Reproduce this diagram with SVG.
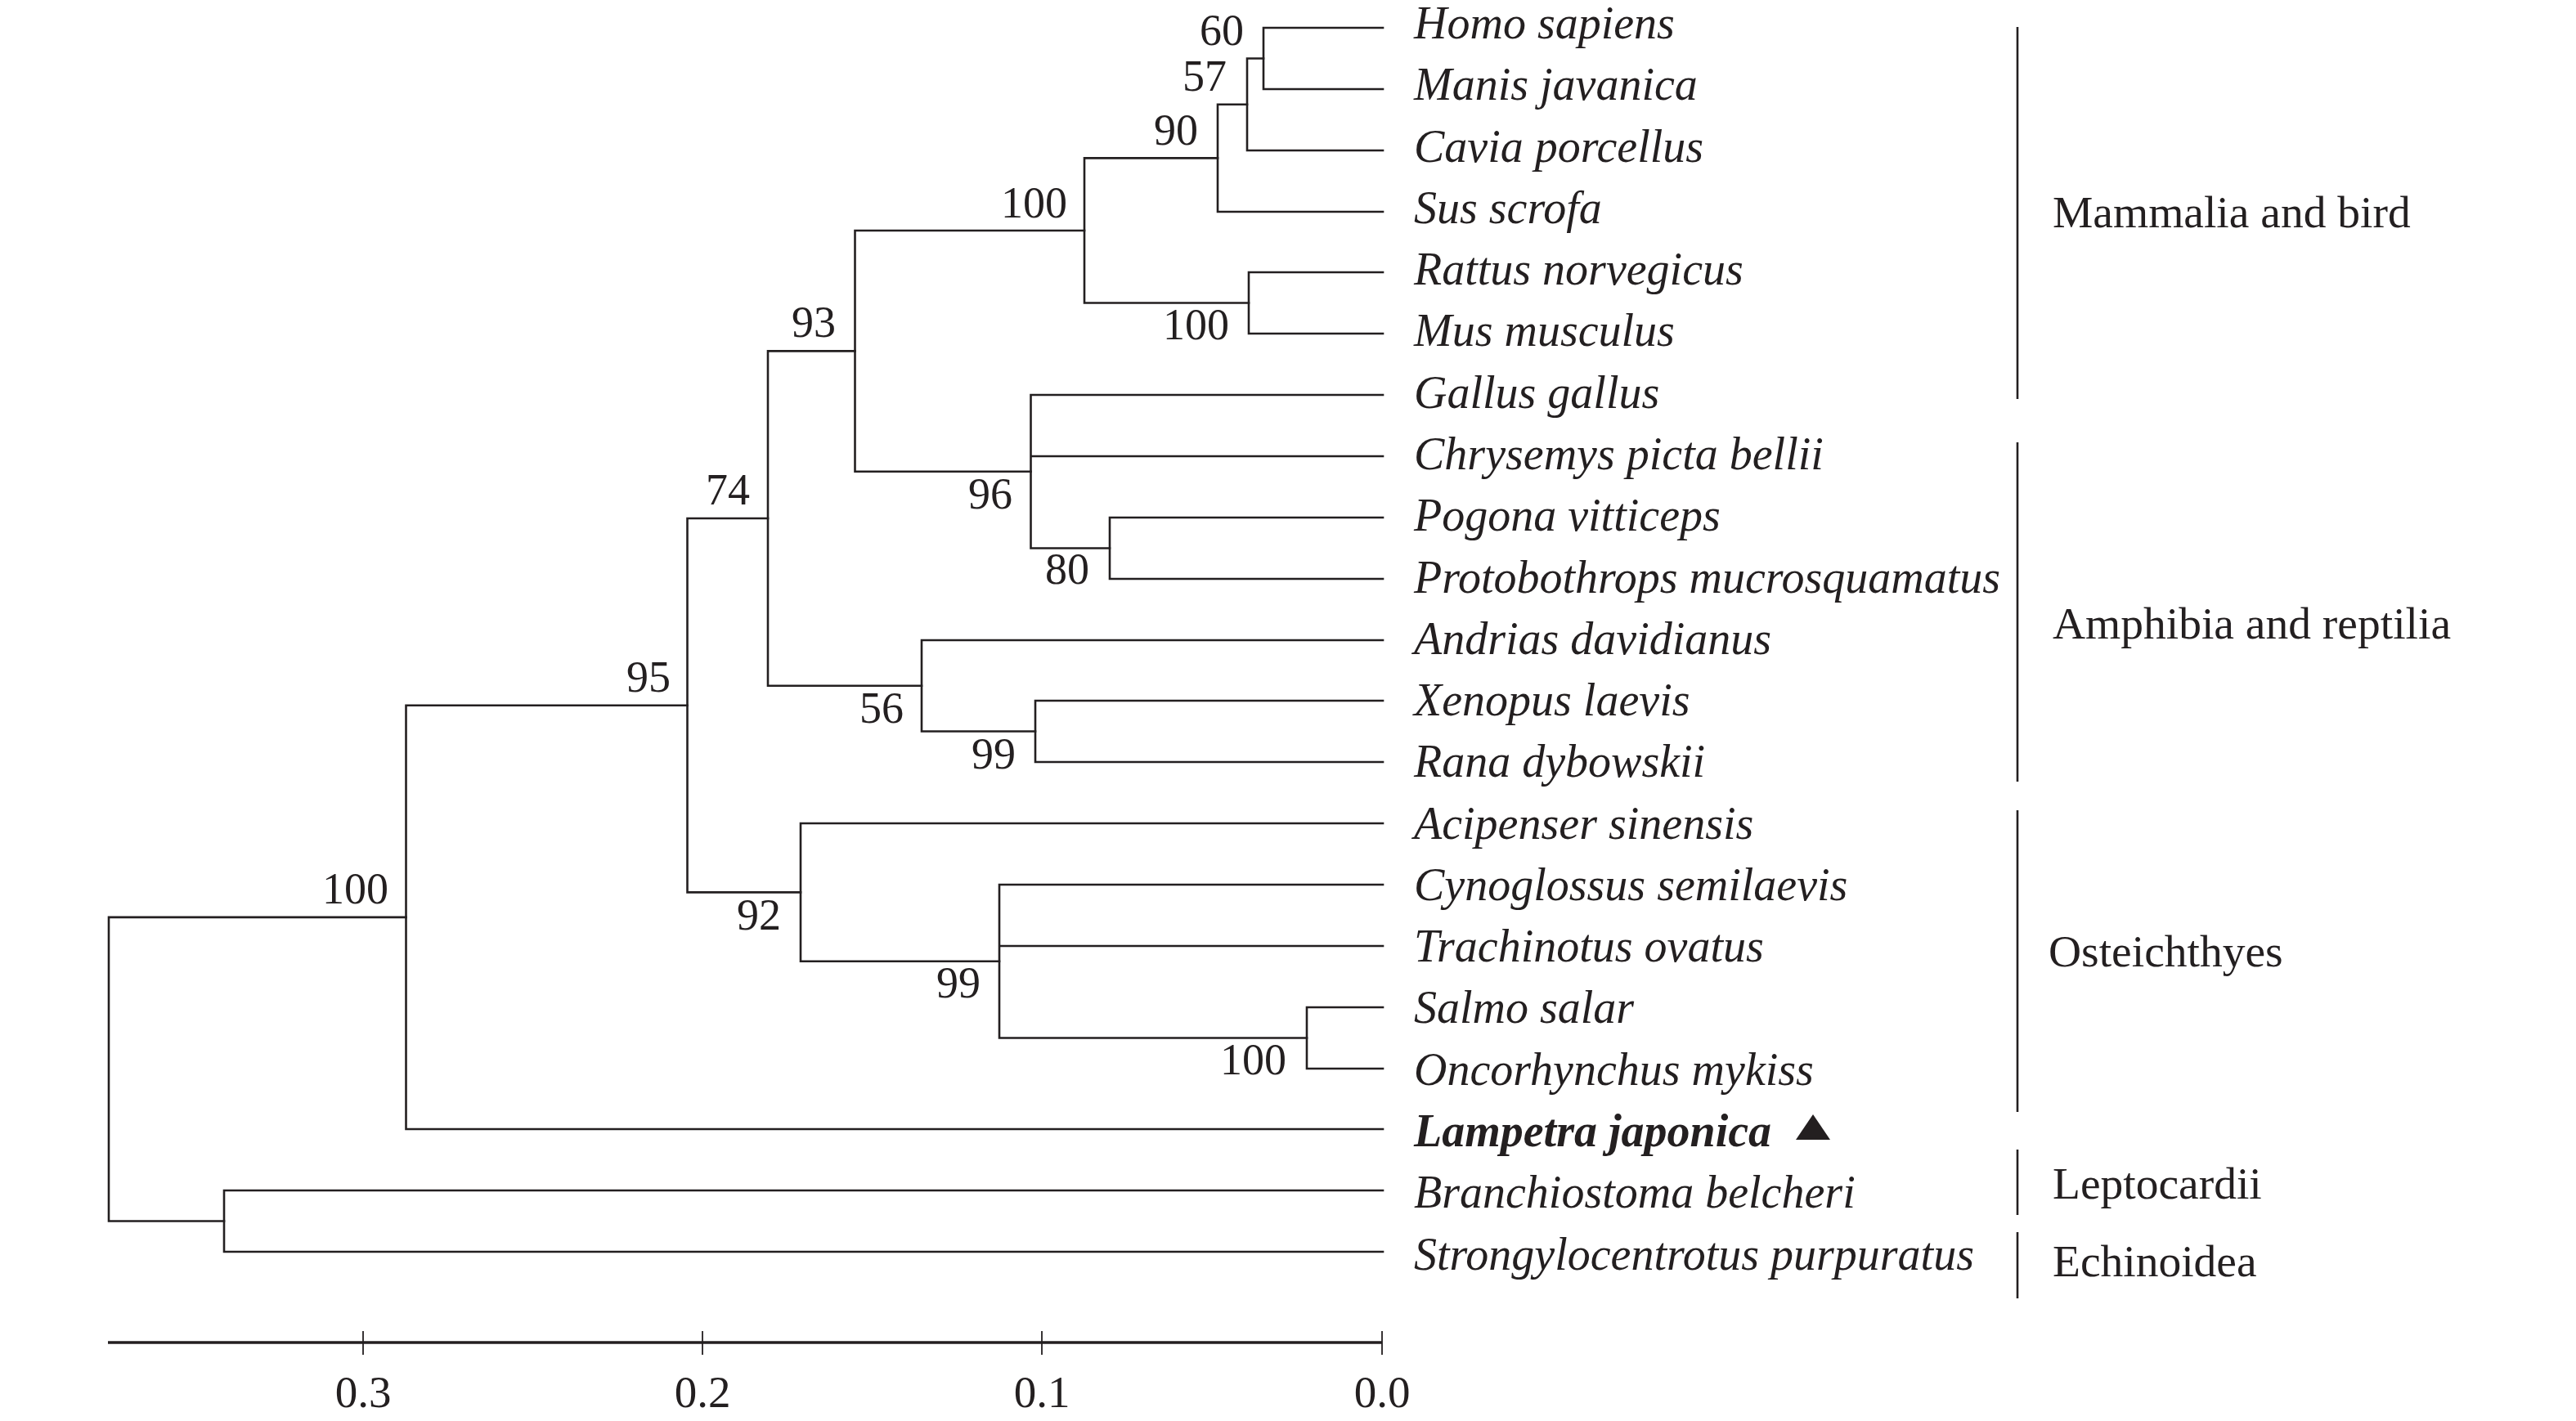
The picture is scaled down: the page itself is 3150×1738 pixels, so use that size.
<svg xmlns="http://www.w3.org/2000/svg" width="3150" height="1738" viewBox="0 0 3150 1738">
<style>
  .br { stroke: #231f20; stroke-width: 2.6; fill: none; stroke-linecap: square; }
  .leaf { font-family: "Liberation Serif", "Times New Roman", serif; font-style: italic; font-size: 56px; fill: #231f20; }
  .bold { font-weight: bold; }
  .bs { font-family: "Liberation Serif", "Times New Roman", serif; font-size: 54px; fill: #231f20; text-anchor: end; }
  .grp { font-family: "Liberation Serif", "Times New Roman", serif; font-size: 55.5px; fill: #231f20; }
  .bar { stroke: #231f20; stroke-width: 2.6; }
  .axis { stroke: #231f20; stroke-width: 3.5; }
  .tick { stroke: #231f20; stroke-width: 1.8; }
  .tl { font-family: "Liberation Serif", "Times New Roman", serif; font-size: 55px; fill: #231f20; text-anchor: middle; }
</style>
<rect width="3150" height="1738" fill="#ffffff"/>
<g id="connectors">
  <path class="br" d="M1545,34 V109 M1545,34 H1691 M1545,109 H1691"/>
  <path class="br" d="M1525,71.5 V184 M1525,71.5 H1545 M1525,184 H1691"/>
  <path class="br" d="M1489,127.75 V259 M1489,127.75 H1525 M1489,259 H1691"/>
  <path class="br" d="M1527,333 V408 M1527,333 H1691 M1527,408 H1691"/>
  <path class="br" d="M1326,193.4 V370.5 M1326,193.4 H1489 M1326,370.5 H1527"/>
  <path class="br" d="M1357,633 V708 M1357,633 H1691 M1357,708 H1691"/>
  <path class="br" d="M1260.5,483 V670.5 M1260.5,483 H1691 M1260.5,558 H1691 M1260.5,670.5 H1357"/>
  <path class="br" d="M1045.5,282 V576.75 M1045.5,282 H1326 M1045.5,576.75 H1260.5"/>
  <path class="br" d="M1266,857 V932 M1266,857 H1691 M1266,932 H1691"/>
  <path class="br" d="M1127,783 V894.5 M1127,783 H1691 M1127,894.5 H1266"/>
  <path class="br" d="M939,429.4 V838.75 M939,429.4 H1045.5 M939,838.75 H1127"/>
  <path class="br" d="M1598,1232 V1307 M1598,1232 H1691 M1598,1307 H1691"/>
  <path class="br" d="M1222,1082 V1269.5 M1222,1082 H1691 M1222,1157 H1691 M1222,1269.5 H1598"/>
  <path class="br" d="M979,1007 V1175.75 M979,1007 H1691 M979,1175.75 H1222"/>
  <path class="br" d="M840.5,634 V1091.4 M840.5,634 H939 M840.5,1091.4 H979"/>
  <path class="br" d="M496.5,862.7 V1381 M496.5,862.7 H840.5 M496.5,1381 H1691"/>
  <path class="br" d="M274,1456 V1531 M274,1456 H1691 M274,1531 H1691"/>
  <path class="br" d="M133,1121.9 V1493.5 M133,1121.9 H496.5 M133,1493.5 H274"/>
</g>
<g id="bootstrap">
  <text class="bs" x="1521" y="55">60</text>
  <text class="bs" x="1500" y="111">57</text>
  <text class="bs" x="1465" y="177">90</text>
  <text class="bs" x="1305" y="266">100</text>
  <text class="bs" x="1503" y="415">100</text>
  <text class="bs" x="1022" y="412">93</text>
  <text class="bs" x="1238" y="622">96</text>
  <text class="bs" x="1332" y="714">80</text>
  <text class="bs" x="917" y="617">74</text>
  <text class="bs" x="1105" y="884">56</text>
  <text class="bs" x="1242" y="940">99</text>
  <text class="bs" x="820" y="846">95</text>
  <text class="bs" x="955" y="1137">92</text>
  <text class="bs" x="1199" y="1220">99</text>
  <text class="bs" x="1573" y="1314">100</text>
  <text class="bs" x="475" y="1105">100</text>
</g>
<g id="node-homo"><text class="leaf" x="1729" y="47">Homo sapiens</text></g>
<g id="node-manis"><text class="leaf" x="1729" y="122">Manis javanica</text></g>
<g id="node-cavia"><text class="leaf" x="1729" y="198">Cavia porcellus</text></g>
<g id="node-sus"><text class="leaf" x="1729" y="273">Sus scrofa</text></g>
<g id="node-rattus"><text class="leaf" x="1729" y="348">Rattus norvegicus</text></g>
<g id="node-mus"><text class="leaf" x="1729" y="423">Mus musculus</text></g>
<g id="node-gallus"><text class="leaf" x="1729" y="499">Gallus gallus</text></g>
<g id="node-chrysemys"><text class="leaf" x="1729" y="574">Chrysemys picta bellii</text></g>
<g id="node-pogona"><text class="leaf" x="1729" y="649">Pogona vitticeps</text></g>
<g id="node-protobothrops"><text class="leaf" x="1729" y="725">Protobothrops mucrosquamatus</text></g>
<g id="node-andrias"><text class="leaf" x="1729" y="800">Andrias davidianus</text></g>
<g id="node-xenopus"><text class="leaf" x="1729" y="875">Xenopus laevis</text></g>
<g id="node-rana"><text class="leaf" x="1729" y="950">Rana dybowskii</text></g>
<g id="node-acipenser"><text class="leaf" x="1729" y="1026">Acipenser sinensis</text></g>
<g id="node-cynoglossus"><text class="leaf" x="1729" y="1101">Cynoglossus semilaevis</text></g>
<g id="node-trachinotus"><text class="leaf" x="1729" y="1176">Trachinotus ovatus</text></g>
<g id="node-salmo"><text class="leaf" x="1729" y="1251">Salmo salar</text></g>
<g id="node-oncorhynchus"><text class="leaf" x="1729" y="1327">Oncorhynchus mykiss</text></g>
<g id="node-lampetra">
  <text class="leaf bold" x="1729" y="1402">Lampetra japonica</text>
  <polygon points="2217,1363 2196,1394 2238,1394" fill="#231f20"/>
</g>
<g id="node-branchiostoma"><text class="leaf" x="1729" y="1477">Branchiostoma belcheri</text></g>
<g id="node-strongylocentrotus"><text class="leaf" x="1729" y="1553">Strongylocentrotus purpuratus</text></g>
<g id="groups">
  <line class="bar" x1="2467" y1="33" x2="2467" y2="488"/>
  <line class="bar" x1="2467" y1="541" x2="2467" y2="956"/>
  <line class="bar" x1="2467" y1="991" x2="2467" y2="1360"/>
  <line class="bar" x1="2467" y1="1406" x2="2467" y2="1486"/>
  <line class="bar" x1="2467" y1="1507" x2="2467" y2="1588"/>
  <text class="grp" x="2510" y="278">Mammalia and bird</text>
  <text class="grp" x="2510" y="781">Amphibia and reptilia</text>
  <text class="grp" x="2505" y="1182">Osteichthyes</text>
  <text class="grp" x="2510" y="1466">Leptocardii</text>
  <text class="grp" x="2510" y="1561">Echinoidea</text>
</g>
<g id="scale-axis">
  <line class="axis" x1="132" y1="1642" x2="1690" y2="1642"/>
  <line class="tick" x1="444" y1="1628" x2="444" y2="1657"/>
  <line class="tick" x1="859" y1="1628" x2="859" y2="1657"/>
  <line class="tick" x1="1274" y1="1628" x2="1274" y2="1657"/>
  <line class="tick" x1="1690" y1="1628" x2="1690" y2="1657"/>
  <text class="tl" x="444" y="1721">0.3</text>
  <text class="tl" x="859" y="1721">0.2</text>
  <text class="tl" x="1274" y="1721">0.1</text>
  <text class="tl" x="1690" y="1721">0.0</text>
</g>
</svg>
